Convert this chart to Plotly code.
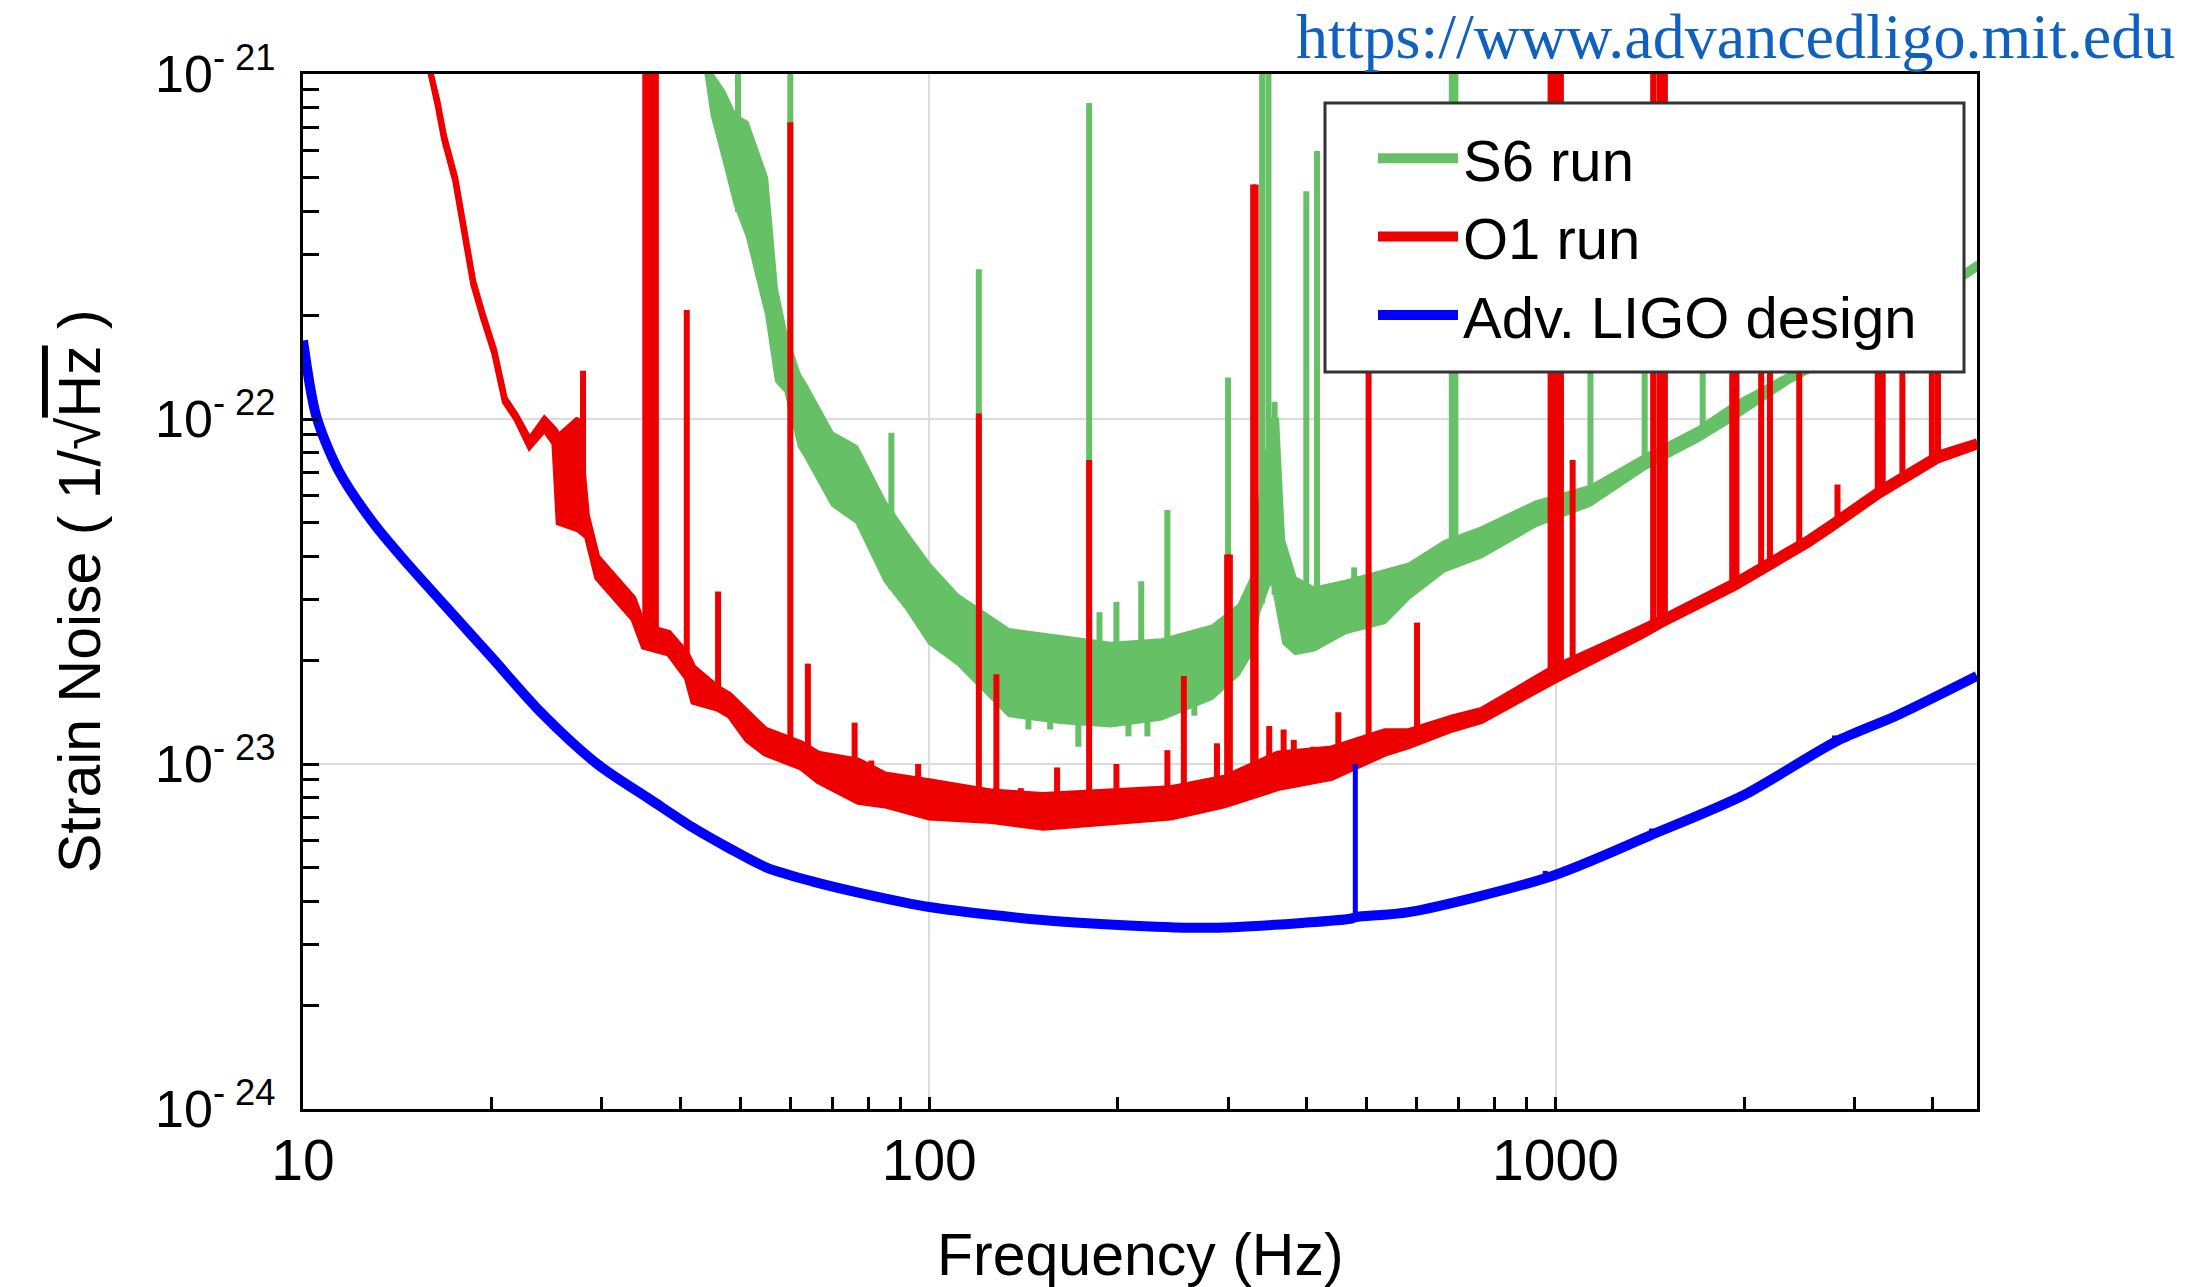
import numpy as np
import plotly.graph_objects as go

# ---------------- data ----------------
# Adv. LIGO design sensitivity (strain / sqrt(Hz))
design_freq = [10.0, 10.5, 11.4, 13.0, 14.6, 17.5, 20.0, 24.0, 29.5, 36.0, 42.0, 48.0, 55.0,
               65.0, 78.0, 100.0, 130.0, 164.0, 277.0, 400.0, 470.0, 480.0, 583.0, 985.0,
               1420.0, 2000.0, 2800.0, 3500.0, 4710.0]
design_asd = [1.69e-22, 1.02e-22, 7.08e-23, 4.95e-23, 3.85e-23, 2.67e-23, 2.04e-23, 1.41e-23,
              1.00e-23, 7.85e-24, 6.53e-24, 5.69e-24, 5.01e-24, 4.57e-24, 4.22e-24, 3.85e-24,
              3.63e-24, 3.49e-24, 3.35e-24, 3.47e-24, 3.56e-24, 3.60e-24, 3.72e-24, 4.73e-24,
              6.22e-24, 8.13e-24, 1.16e-23, 1.38e-23, 1.80e-23]
# narrow lines in the design curve (violin mode and small notches)
design_line_freq = [479.0, 963.0, 1423.0, 2790.0]
design_line_peak = [1.00e-23, 4.90e-24, 6.50e-24, 1.21e-23]

# O1 run noise floor: upper / lower edge of the noisy trace (log10 of strain)
o1_freq = [15.6, 16.0, 16.4, 16.8, 17.5, 18.2, 18.7, 19.4, 20.2, 21.0, 21.9, 23.0, 24.3, 25.2,
           25.6, 27.5, 28.4, 29.5, 31.5, 33.7, 35.0, 38.4, 41.0, 42.0, 46.0, 48.0, 51.2, 54.7,
           62.4, 66.5, 77.0, 85.0, 100.0, 126.0, 152.0, 187.0, 243.0, 296.0, 360.0, 439.0,
           534.0, 583.0, 684.0, 762.0, 995.0, 1371.0, 1483.0, 1941.0, 2531.0, 2755.0, 3305.0,
           4083.0, 4710.0]
o1_upper_log10 = [-20.95, -21.00, -21.08, -21.18, -21.30, -21.47, -21.60, -21.70, -21.80, -21.94,
                  -21.99, -22.06, -22.00, -22.03, -22.05, -22.00, -22.28, -22.40, -22.46, -22.52,
                  -22.60, -22.62, -22.68, -22.72, -22.78, -22.80, -22.85, -22.90, -22.94, -22.97,
                  -22.99, -23.03, -23.05, -23.08, -23.09, -23.08, -23.07, -23.04, -22.97, -22.955,
                  -22.905, -22.905, -22.865, -22.843, -22.72, -22.605, -22.575, -22.467, -22.345,
                  -22.30, -22.20, -22.10, -22.065]
o1_lower_log10 = [-20.95, -21.00, -21.09, -21.19, -21.31, -21.48, -21.61, -21.71, -21.81, -21.95,
                  -22.00, -22.08, -22.03, -22.07, -22.30, -22.32, -22.34, -22.46, -22.52, -22.58,
                  -22.66, -22.68, -22.75, -22.82, -22.84, -22.86, -22.93, -22.97, -23.01, -23.05,
                  -23.11, -23.12, -23.155, -23.165, -23.185, -23.17, -23.155, -23.12, -23.07,
                  -23.04, -22.97, -22.948, -22.90, -22.875, -22.76, -22.63, -22.595, -22.488,
                  -22.365, -22.32, -22.22, -22.12, -22.08]
# O1 narrow lines: frequency and peak (log10 strain); values above -21 leave the frame
o1_line_freq = [28.0, 35.2, 35.9, 36.6, 41.0, 46.0, 60.0, 64.0, 76.0, 80.8, 96.0, 106.0, 120.0,
                128.0, 140.0, 160.0, 180.0, 199.0, 213.0, 240.0, 255.0, 288.0, 299.0, 302.0,
                329.0, 332.0, 349.0, 368.0, 382.0, 410.0, 450.0, 503.0, 601.0, 982.0, 1000.0,
                1020.0, 1065.0, 1432.0, 1465.0, 1495.0, 1915.0, 1945.0, 2130.0, 2200.0, 2450.0,
                2820.0, 3270.0, 3330.0, 3580.0, 3990.0, 4080.0]
o1_line_peak_log10 = [-21.86, -20.5, -20.5, -20.5, -21.684, -22.50, -21.14, -22.709, -22.88,
                      -22.99, -23.0, -23.06, -21.984, -22.74, -23.07, -23.01, -22.119, -23.0,
                      -23.08, -22.96, -22.745, -22.94, -22.393, -22.393, -21.32, -21.32, -22.89,
                      -22.90, -22.93, -22.95, -22.85, -21.5, -22.59, -20.5, -20.5, -20.5,
                      -22.119, -20.5, -20.5, -20.5, -21.6, -21.6, -21.6, -21.6, -21.6, -22.19,
                      -21.6, -21.6, -21.6, -21.6, -21.6]

# S6 run noise floor: upper / lower edge (log10 of strain)
s6_freq = [43.6, 45.0, 47.0, 49.0, 51.2, 53.0, 55.0, 57.0, 59.0, 62.0, 63.5, 70.0, 76.6, 85.0,
           92.0, 100.0, 111.0, 134.0, 162.0, 195.0, 235.0, 283.0, 312.0, 329.0, 336.0, 352.0,
           360.0, 368.0, 384.0, 412.0, 462.0, 534.0, 583.0, 665.0, 762.0, 929.0, 1137.0,
           1388.0, 1695.0, 1936.0, 2366.0, 3000.0, 3800.0, 4710.0]
s6_upper_log10 = [-20.95, -21.00, -21.05, -21.12, -21.14, -21.22, -21.30, -21.62, -21.75, -21.87,
                  -21.90, -22.04, -22.08, -22.24, -22.33, -22.42, -22.51, -22.61, -22.63, -22.65,
                  -22.64, -22.60, -22.54, -22.45, -22.25, -22.00, -22.00, -22.35, -22.46, -22.49,
                  -22.47, -22.44, -22.42, -22.355, -22.315, -22.24, -22.195, -22.105, -22.024,
                  -21.953, -21.868, -21.77, -21.66, -21.545]
s6_lower_log10 = [-20.95, -21.12, -21.25, -21.38, -21.47, -21.58, -21.70, -21.89, -21.92, -22.08,
                  -22.11, -22.25, -22.30, -22.47, -22.55, -22.65, -22.71, -22.86, -22.88, -22.89,
                  -22.87, -22.81, -22.74, -22.67, -22.56, -22.46, -22.56, -22.65, -22.68, -22.67,
                  -22.62, -22.59, -22.52, -22.44, -22.40, -22.31, -22.25, -22.145, -22.062,
                  -21.998, -21.893, -21.793, -21.683, -21.568]
s6_line_freq = [49.5, 60.0, 87.0, 120.0, 180.0, 187.0, 199.0, 218.0, 240.0, 300.0, 340.0, 348.0,
                356.0, 400.0, 416.0, 477.0, 683.0, 692.0, 1020.0, 1137.0, 1388.0, 1718.0]
s6_line_peak_log10 = [-20.5, -20.5, -22.04, -21.566, -21.084, -22.56, -22.53, -22.47, -22.264,
                      -21.88, -20.5, -20.5, -21.95, -21.34, -21.223, -22.43, -20.5, -20.5,
                      -21.6, -21.65, -21.7, -21.75]
# S6 downward noise excursions below the lower edge
s6_dip_freq = [144.0, 156.0, 173.0, 208.0, 223.0, 265.0]
s6_dip_log10 = [-22.90, -22.90, -22.95, -22.92, -22.92, -22.86]

legend_names = ["S6 run", "O1 run", "Adv. LIGO design"]
x_tick_vals = [10, 100, 1000]
x_tick_text = ["10", "100", "1000"]
y_tick_vals = [1e-24, 1e-23, 1e-22, 1e-21]
y_tick_exps = ["24", "23", "22", "21"]

# ---------------- styling ----------------
GREEN = "#66C166"
RED = "#EE0000"
BLUE = "#0000FF"
FONT = "Liberation Sans, Arial, sans-serif"

W, H = 2193, 1287
L, R, T, B = 303, 216, 74, 178
PW, PH = W - L - R, H - T - B


def px_x(px):
    return (px - L) / PW


def px_y(py):
    return (H - B - py) / PH


def pow10(a):
    return [10.0 ** v for v in a]


def spike_xy(freqs, peaks_log, base_f, base_log):
    lf = np.log10(base_f)
    xs, ys = [], []
    for f, p in zip(freqs, peaks_log):
        b = float(np.interp(np.log10(f), lf, base_log))
        xs += [f, f, None]
        ys += [10.0 ** b, 10.0 ** p, None]
    return xs, ys


fig = go.Figure()

# legend entries
for name, col in zip(legend_names, [GREEN, RED, BLUE]):
    fig.add_trace(go.Scatter(x=[None], y=[None], mode="lines", name=name,
                             line=dict(color=col, width=10)))

# S6 band + lines
fig.add_trace(go.Scatter(x=s6_freq, y=pow10(s6_upper_log10), mode="lines",
                         line=dict(color=GREEN, width=3), showlegend=False, hoverinfo="skip"))
fig.add_trace(go.Scatter(x=s6_freq, y=pow10(s6_lower_log10), mode="lines", fill="tonexty",
                         fillcolor=GREEN, line=dict(color=GREEN, width=3), showlegend=False,
                         hoverinfo="skip"))
sx, sy = spike_xy(s6_line_freq, s6_line_peak_log10, s6_freq, s6_lower_log10)
dx, dy = spike_xy(s6_dip_freq, s6_dip_log10, s6_freq, s6_upper_log10)
fig.add_trace(go.Scatter(x=sx + dx, y=sy + dy, mode="lines", line=dict(color=GREEN, width=6),
                         showlegend=False, hoverinfo="skip"))

# O1 band + lines
fig.add_trace(go.Scatter(x=o1_freq, y=pow10(o1_upper_log10), mode="lines",
                         line=dict(color=RED, width=6), showlegend=False, hoverinfo="skip"))
fig.add_trace(go.Scatter(x=o1_freq, y=pow10(o1_lower_log10), mode="lines", fill="tonexty",
                         fillcolor=RED, line=dict(color=RED, width=6), showlegend=False,
                         hoverinfo="skip"))
ox, oy = spike_xy(o1_line_freq, o1_line_peak_log10, o1_freq, o1_lower_log10)
fig.add_trace(go.Scatter(x=ox, y=oy, mode="lines", line=dict(color=RED, width=6),
                         showlegend=False, hoverinfo="skip"))

# design curve
fig.add_trace(go.Scatter(x=design_freq, y=design_asd, mode="lines",
                         line=dict(color=BLUE, width=10, shape="spline", smoothing=0.8),
                         showlegend=False, hoverinfo="skip"))
bx, by = [], []
for f, p in zip(design_line_freq, design_line_peak):
    base = 10.0 ** float(np.interp(np.log10(f), np.log10(design_freq), np.log10(design_asd)))
    bx += [f, f, None]
    by += [base, p, None]
fig.add_trace(go.Scatter(x=bx, y=by, mode="lines", line=dict(color=BLUE, width=5),
                         showlegend=False, hoverinfo="skip"))

x_minor = [k * 10 ** e for e in (1, 2) for k in range(2, 10)] + [2000, 3000, 4000]
y_minor = [k * 10.0 ** e for e in (-24, -23, -22) for k in range(2, 10)]

fig.update_xaxes(type="log", range=[1, np.log10(4710)], tickmode="array",
                 tickvals=x_tick_vals, ticktext=x_tick_text,
                 ticks="inside", ticklen=12, tickwidth=3, tickcolor="black",
                 showline=True, linecolor="black", linewidth=3, mirror=True,
                 showgrid=True, gridcolor="#DCDCDC", gridwidth=2, zeroline=False,
                 tickfont=dict(family=FONT, size=57, color="black"), ticklabelstandoff=0,
                 minor=dict(tickmode="array", tickvals=x_minor, ticks="inside", ticklen=12,
                            tickwidth=3, tickcolor="black", showgrid=False))
fig.update_yaxes(type="log", range=[-24, -21], tickmode="array",
                 tickvals=y_tick_vals,
                 ticktext=["10<sup>- %s</sup>" % e for e in y_tick_exps],
                 ticks="inside", ticklen=16, tickwidth=3, tickcolor="black",
                 showline=True, linecolor="black", linewidth=3, mirror=True,
                 showgrid=True, gridcolor="#DCDCDC", gridwidth=2, zeroline=False,
                 tickfont=dict(family=FONT, size=52, color="black"), ticklabelstandoff=14,
                 minor=dict(tickmode="array", tickvals=y_minor, ticks="inside", ticklen=16,
                            tickwidth=3, tickcolor="black", showgrid=False))

# legend frame
fig.add_shape(type="rect", xref="paper", yref="paper", x0=px_x(1325), x1=px_x(1964),
              y0=px_y(372), y1=px_y(103), fillcolor="white",
              line=dict(color="#333333", width=3), layer="above")

fig.update_layout(
    width=W, height=H, autosize=False,
    margin=dict(l=L, r=R, t=T, b=B, pad=0),
    paper_bgcolor="white", plot_bgcolor="white",
    showlegend=True,
    legend=dict(x=px_x(1373), y=px_y(114), xanchor="left", yanchor="top",
                bgcolor="rgba(0,0,0,0)", borderwidth=0, itemwidth=80, traceorder="normal",
                font=dict(family=FONT, size=58, color="black"), tracegroupgap=0),
    annotations=[
        dict(text="Frequency (Hz)", xref="paper", yref="paper", x=px_x(1140), y=px_y(1255),
             xanchor="center", yanchor="middle", showarrow=False,
             font=dict(family=FONT, size=59, color="black")),
        dict(text="Strain Noise ( 1/\u221a<span style='text-decoration:overline'>Hz</span> )",
             xref="paper", yref="paper", x=px_x(80), y=px_y(591), textangle=-90,
             xanchor="center", yanchor="middle", showarrow=False,
             font=dict(family=FONT, size=59, color="black")),
        dict(text="https://www.advancedligo.mit.edu", xref="paper", yref="paper",
             x=px_x(2177), y=px_y(36), xanchor="right", yanchor="middle", showarrow=False,
             font=dict(family="Liberation Serif, Times New Roman, serif", size=64,
                       color="#1060C0")),
    ],
)

fig.write_html("out.html")
